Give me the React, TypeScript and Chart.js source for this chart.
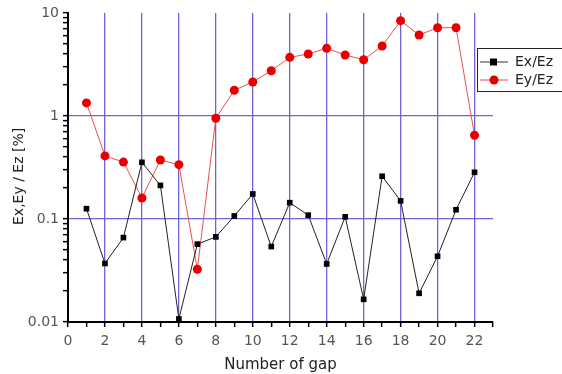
import React, { useEffect, useRef } from 'react';
import { Chart, registerables } from 'chart.js';

Chart.register(...registerables);

const gaps = [1, 2, 3, 4, 5, 6, 7, 8, 9, 10, 11, 12, 13, 14, 15, 16, 17, 18, 19, 20, 21, 22];
const exEz = [0.126, 0.037, 0.066, 0.355, 0.212, 0.0107, 0.057, 0.067, 0.107, 0.175, 0.054, 0.144, 0.109, 0.0366, 0.105, 0.0166, 0.26, 0.15, 0.019, 0.0435, 0.123, 0.284];
const eyEz = [1.34, 0.41, 0.357, 0.16, 0.374, 0.337, 0.0325, 0.95, 1.78, 2.14, 2.75, 3.71, 4.0, 4.54, 3.91, 3.52, 4.78, 8.42, 6.11, 7.2, 7.2, 0.65];
const xTickLabels = ['0', '2', '4', '6', '8', '10', '12', '14', '16', '18', '20', '22'];
const yTickLabels = ['0.01', '0.1', '1', '10'];
const yGridValues = [0.1, 1];
const seriesNames = ['Ex/Ez', 'Ey/Ez'];

const FONT = "'DejaVu Sans', sans-serif";
const BLUE = 'rgb(110, 100, 215)';

const legendPlugin = {
  id: 'boxLegend',
  afterDraw(chart: any) {
    const ctx = chart.ctx;
    ctx.save();
    const bx = 477.5, by = 48.5, bw = 100, bh = 43;
    ctx.fillStyle = '#fff';
    ctx.fillRect(bx, by, bw, bh);
    ctx.strokeStyle = '#222';
    ctx.lineWidth = 1;
    ctx.strokeRect(bx, by, bw, bh);
    const rows = [
      { y: 62, color: '#000', name: seriesNames[0], shape: 'square' },
      { y: 80, color: '#e00000', name: seriesNames[1], shape: 'circle' },
    ];
    ctx.font = `14px ${FONT}`;
    ctx.textBaseline = 'middle';
    rows.forEach((r) => {
      ctx.strokeStyle = r.shape === 'square' ? '#333' : '#e84848';
      ctx.beginPath();
      ctx.moveTo(480, r.y);
      ctx.lineTo(508, r.y);
      ctx.stroke();
      ctx.fillStyle = r.color;
      if (r.shape === 'square') {
        ctx.fillRect(490, r.y - 3.5, 7, 7);
      } else {
        ctx.beginPath();
        ctx.arc(494, r.y, 4.5, 0, Math.PI * 2);
        ctx.fill();
      }
      ctx.fillStyle = '#222';
      ctx.fillText(r.name, 515, r.y);
    });
    ctx.restore();
  },
};

export default function App() {
  const ref = useRef<HTMLCanvasElement | null>(null);
  useEffect(() => {
    document.body.style.margin = '0';
    const canvas = ref.current!;
    const chart = new Chart(canvas, {
      type: 'line',
      data: {
        datasets: [
          {
            label: seriesNames[0],
            data: gaps.map((g, i) => ({ x: g, y: exEz[i] })),
            borderColor: '#222',
            borderWidth: 1,
            backgroundColor: '#000',
            pointStyle: 'rect',
            pointRadius: 4,
            pointBorderWidth: 0,
            tension: 0,
          },
          {
            label: seriesNames[1],
            data: gaps.map((g, i) => ({ x: g, y: eyEz[i] })),
            borderColor: '#ea5050',
            borderWidth: 1,
            backgroundColor: '#e80000',
            pointStyle: 'circle',
            pointRadius: 4.5,
            pointBorderWidth: 0,
            tension: 0,
          },
        ],
      },
      options: {
        responsive: false,
        animation: false,
        layout: { padding: { top: 13, right: 69, left: 0, bottom: 0 } },
        plugins: { legend: { display: false }, tooltip: { enabled: false } },
        scales: {
          x: {
            type: 'linear',
            min: 0,
            max: 23,
            afterFit: (s: any) => { s.height = 52; },
            afterBuildTicks: (s: any) => {
              const t = [];
              for (let v = 0; v <= 23; v++) t.push({ value: v });
              s.ticks = t;
            },
            ticks: {
              autoSkip: false,
              maxRotation: 0,
              padding: 6,
              color: '#555',
              font: { family: FONT, size: 14 },
              callback: (v: any) => {
                const s = String(v);
                return xTickLabels.includes(s) ? s : '';
              },
            },
            grid: {
              color: (c: any) => {
                const v = c.tick ? c.tick.value : -1;
                return v > 0 && v <= 22 && v % 2 === 0 ? BLUE : 'rgba(0,0,0,0)';
              },
              lineWidth: 1.3,
              tickColor: '#000',
              tickLength: 5,
              tickWidth: 1.5,
            },
            border: { display: true, color: '#000', width: 2 },
            title: {
              display: true,
              text: 'Number of gap',
              color: '#222',
              font: { family: FONT, size: 15 },
              padding: { top: 2, bottom: 0 },
            },
          },
          y: {
            type: 'logarithmic',
            min: 0.01,
            max: 10,
            afterFit: (s: any) => { s.width = 68; },
            afterBuildTicks: (s: any) => {
              const t = [];
              for (let e = -2; e <= 0; e++) {
                for (let m = 1; m <= 9; m++) t.push({ value: parseFloat((m * Math.pow(10, e)).toPrecision(3)) });
              }
              t.push({ value: 10 });
              s.ticks = t;
            },
            ticks: {
              autoSkip: false,
              padding: 4,
              color: '#555',
              font: { family: FONT, size: 14 },
              callback: (v: any) => {
                const lab = yTickLabels.find((l) => Math.abs(Number(l) - Number(v)) < 1e-9);
                return lab ?? '';
              },
            },
            grid: {
              color: (c: any) => {
                const v = c.tick ? c.tick.value : -1;
                return yGridValues.some((g) => Math.abs(g - v) < 1e-9) ? BLUE : 'rgba(0,0,0,0)';
              },
              lineWidth: 1.3,
              tickColor: '#000',
              tickLength: 5,
              tickWidth: 1.5,
            },
            border: { display: true, color: '#000', width: 2 },
            title: {
              display: true,
              text: 'Ex,Ey / Ez [%]    ',
              color: '#222',
              font: { family: FONT, size: 14 },
              padding: { top: 11, bottom: 0 },
            },
          },
        },
      },
      plugins: [legendPlugin],
    });
    return () => chart.destroy();
  }, []);
  return (
    <div style={{ position: 'absolute', left: 0, top: 0 }}>
      <canvas ref={ref} width={562} height={374} style={{ display: 'block', width: 562, height: 374 }} />
    </div>
  );
}
